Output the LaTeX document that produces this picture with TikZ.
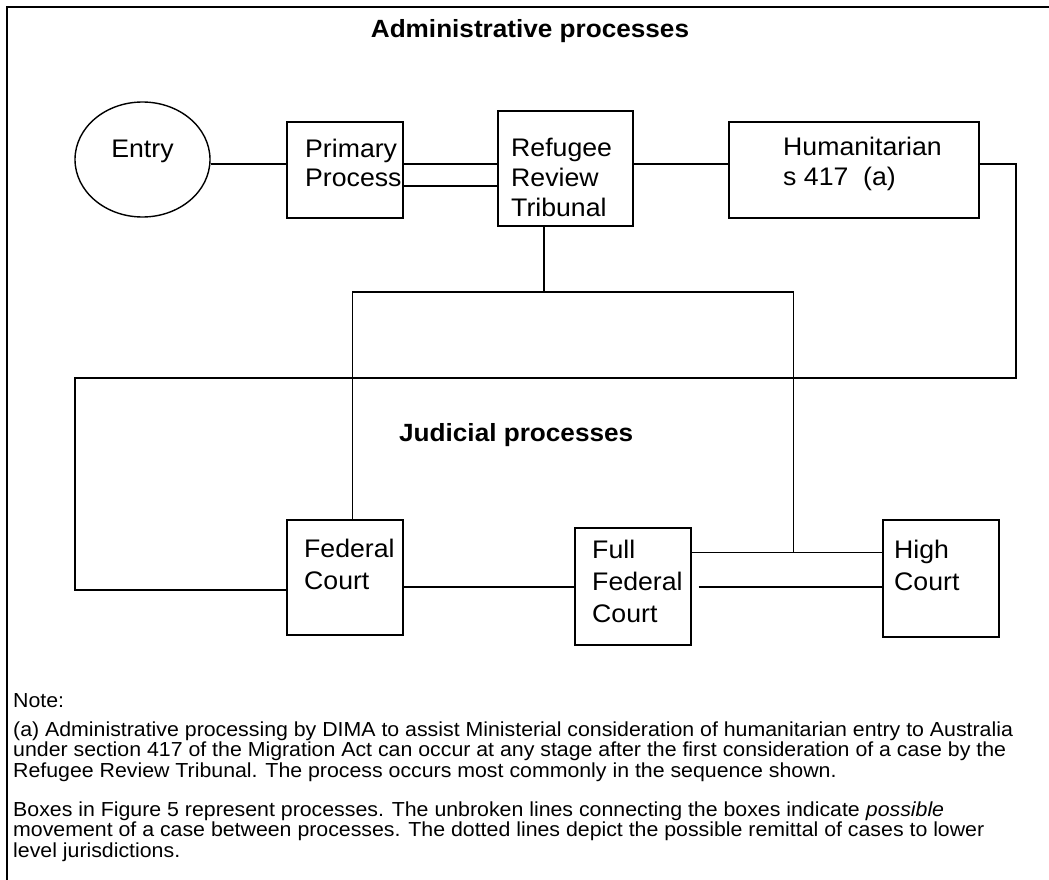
\documentclass[tikz,border=0pt]{standalone}
\usepackage{fontspec}
\setmainfont{Liberation Sans}[FakeStretch=1.05]
\usetikzlibrary{positioning,shapes.geometric,calc}
\newcommand\procfont{\fontsize{25.4}{29}\selectfont}
\newcommand\rrtfont{\fontsize{25.4}{30}\selectfont}
\newcommand\courtfont{\fontsize{25.4}{32}\selectfont}
\newcommand\hdfont{\fontsize{24.9}{28}\selectfont\bfseries}
\newcommand\notesfont{\fontsize{20.3}{20.5}\selectfont}
\tikzset{
  proc/.style={draw, line width=1.6pt, anchor=north west, inner sep=0pt},
  proctxt/.style={anchor=base west, align=left, inner sep=0pt, font=\procfont},
  courttxt/.style={proctxt, font=\courtfont},
  entry/.style={draw, ellipse, line width=1.4pt, minimum width=135pt,
                minimum height=115pt, inner sep=0pt, font=\procfont,
                text height=18.2pt, text depth=23pt},
  conn/.style={line width=1.4pt},
  thinconn/.style={line width=1pt},
  hd/.style={anchor=base, font=\hdfont, inner sep=0pt},
  note/.style={anchor=base west, align=left, inner sep=0pt, font=\notesfont},
}

\begin{document}
\begin{tikzpicture}[x=1pt, y=-1pt]
  \useasboundingbox (0,0) rectangle (1049,880);
  % frame
  \draw[line width=1.8pt] (7.3,880) -- (7.3,6.7) -- (1049,6.7);
  \node[hd] (admin) at (530,38) {Administrative processes};
  \node[hd, anchor=base west] (judic) at (399,441) {Judicial processes};

  % administrative processes
  \node[entry] (entry) at (142.5,159.5) {Entry};
  \node[proc, minimum width=116pt, minimum height=96pt] (prim) at (286,121) {};
  \node[proctxt] (primtxt) at ($(prim.north west)+(19,65)$) {Primary\\Process};
  \node[proc, minimum width=135pt, minimum height=115pt] (rrt) at (497,110) {};
  \node[proctxt, font=\rrtfont] (rrttxt) at ($(rrt.north west)+(14,106)$) {Refugee\\Review\\Tribunal};
  \node[proc, minimum width=250pt, minimum height=96pt] (hum) at (728,121) {};
  \node[proctxt] (humtxt) at ($(hum.north west)+(55,64)$) {Humanitarian\\s 417~~(a)};

  % judicial processes
  \node[proc, minimum width=116pt, minimum height=115pt] (fed) at (286,519) {};
  \node[courttxt] (fedtxt) at ($(fed.north west)+(18,70)$) {Federal\\Court};
  \node[proc, minimum width=116pt, minimum height=117pt] (full) at (574,527) {};
  \node[courttxt] (fulltxt) at ($(full.north west)+(18,95)$) {Full\\Federal\\Court};
  \node[proc, minimum width=116pt, minimum height=117pt] (high) at (882,519) {};
  \node[courttxt] (hightxt) at ($(high.north west)+(12,71)$) {High\\Court};

  % connectors
  \coordinate (rail) at (0,164);
  \coordinate (rail2) at (0,186);
  \coordinate (loopR) at (1016,378);
  \coordinate (loopL) at (75,590);
  \coordinate (split) at (544,292);
  \coordinate (brL) at (352,292);
  \coordinate (brR) at (793.5,292);
  \coordinate (fh) at (0,552.5);
  \coordinate (courts) at (0,587);
  \draw[conn] (entry.east |- rail) -- (prim.west |- rail);
  \draw[conn] (prim.east |- rail) -- (rrt.west |- rail);
  \draw[conn] (prim.east |- rail2) -- (rrt.west |- rail2);
  \draw[conn] (rrt.east |- rail) -- (hum.west |- rail);
  \draw[conn, line width=1.7pt] (hum.east |- rail) -| (loopR) -| (loopL) -- (fed.west |- loopL);
  \draw[conn] (rrt.south -| split) -- (split);
  \draw[conn] (brL) -- (brR);
  \draw[thinconn] (fed.north -| brL) -- (brL);
  \draw[thinconn] (brR) -- (brR |- fh);
  \draw[conn] (fed.east |- courts) -- (full.west |- courts);
  \draw[conn] (full.east |- fh) -- (high.west |- fh);
  \draw[conn] ($(full.east |- courts)+(7,0)$) -- (high.west |- courts);

  % notes
  \node[note] (notehd) at (13,707) {Note:};
  \node[note] (notea) at (13,777) {(a) Administrative processing by DIMA to assist Ministerial consideration of humanitarian entry to Australia\\under section 417 of the Migration Act can occur at any stage after the first consideration of a case by the\\Refugee Review Tribunal.  The process occurs most commonly in the sequence shown.};
  \node[note] (noteb) at (13,857) {Boxes in Figure 5 represent processes.  The unbroken lines connecting the boxes indicate \textit{possible}\\movement of a case between processes.  The dotted lines depict the possible remittal of cases to lower\\level jurisdictions.};
\end{tikzpicture}
\end{document}
